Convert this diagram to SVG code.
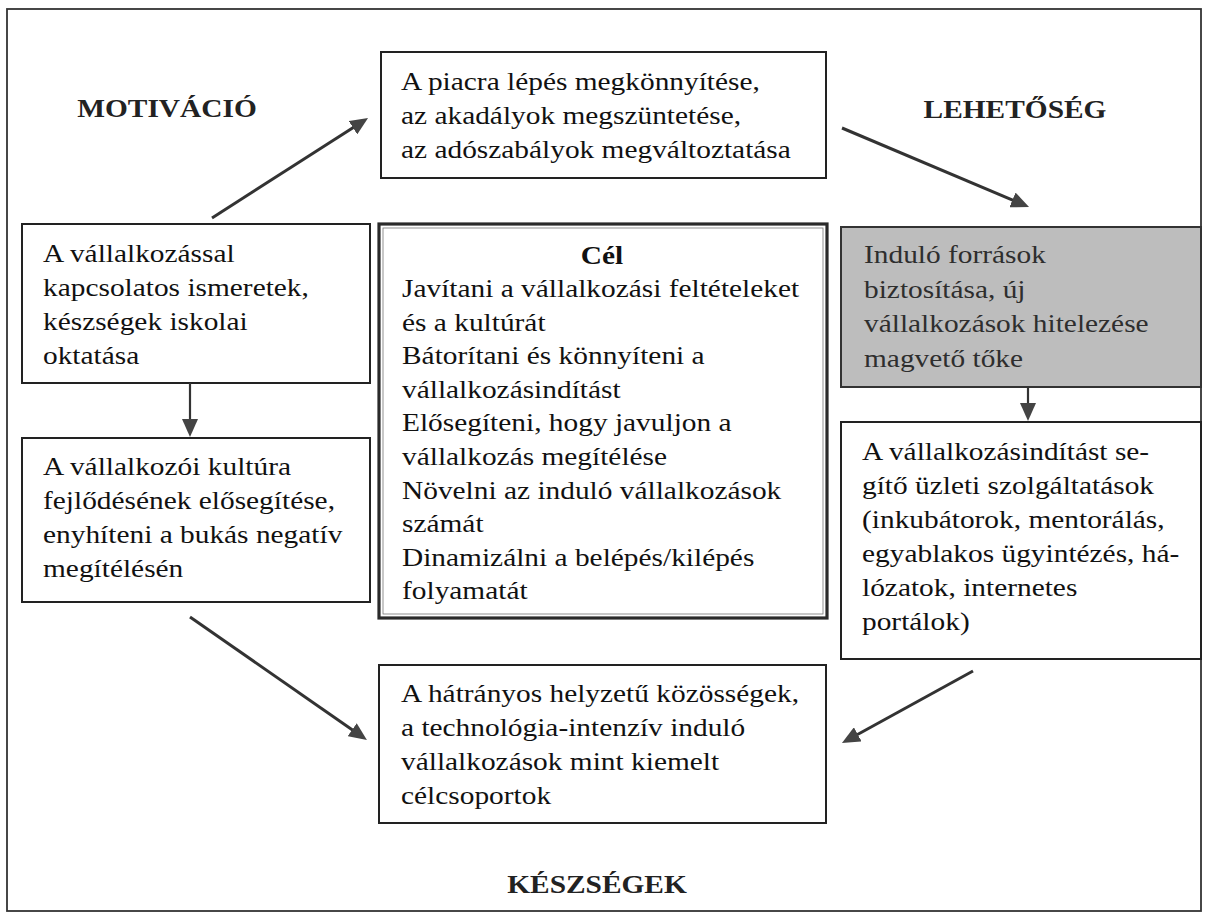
<svg xmlns="http://www.w3.org/2000/svg" width="1206" height="914" viewBox="0 0 1206 914">
<defs>
<style>
.box{fill:#fff;stroke:#222;stroke-width:2}
.t{font-family:"Liberation Serif","Times New Roman",serif;font-size:26px;fill:#111}
.lbl{font-family:"Liberation Serif","Times New Roman",serif;font-size:26px;font-weight:bold;fill:#222;text-anchor:middle}
.gt{font-family:"Liberation Serif","Times New Roman",serif;font-size:26px;fill:#2e2e2e}
.arr{stroke:#333;stroke-width:3;fill:none;marker-end:url(#ah)}
.arrv{stroke:#333;stroke-width:2.2;fill:none;marker-end:url(#ah)}
</style>
<marker id="ah" markerUnits="userSpaceOnUse" markerWidth="18" markerHeight="16" refX="7" refY="8" orient="auto">
<path d="M0,0 L18,8 L0,16 z" fill="#444"/>
</marker>
</defs>
<rect x="0" y="0" width="1206" height="914" fill="#fff"/>
<rect id="frame" x="7" y="9" width="1194" height="902" fill="none" stroke="#333" stroke-width="1.8"/>

<g id="label-motivacio"><text class="lbl" transform="translate(167 0) scale(1.13 1)" x="0" y="117">MOTIVÁCIÓ</text></g>
<g id="label-lehetoseg"><text class="lbl" transform="translate(1015 0) scale(1.13 1)" x="0" y="118">LEHETŐSÉG</text></g>
<g id="label-keszsegek"><text class="lbl" transform="translate(597 0) scale(1.13 1)" x="0" y="893">KÉSZSÉGEK</text></g>

<g id="node-piac">
<rect class="box" x="381" y="52" width="445" height="126"/>
<text class="t" transform="translate(401 0) scale(1.13 1)"><tspan x="0" y="90">A piacra lépés megkönnyítése,</tspan><tspan x="0" y="124">az akadályok megszüntetése,</tspan><tspan x="0" y="158">az adószabályok megváltoztatása</tspan></text>
</g>

<g id="node-ismeretek">
<rect class="box" x="22" y="224" width="348" height="159"/>
<text class="t" transform="translate(43 0) scale(1.13 1)"><tspan x="0" y="262">A vállalkozással</tspan><tspan x="0" y="296">kapcsolatos ismeretek,</tspan><tspan x="0" y="330">készségek iskolai</tspan><tspan x="0" y="364">oktatása</tspan></text>
</g>

<g id="node-cel">
<rect x="379" y="224" width="448" height="394" fill="#fff" stroke="#2a2a2a" stroke-width="3.2"/>
<rect x="383" y="228" width="440" height="386" fill="none" stroke="#777" stroke-width="0.8"/>
<text class="lbl" transform="translate(602 0) scale(1.13 1)" x="0" y="264" style="fill:#111">Cél</text>
<text class="t" transform="translate(402 0) scale(1.13 1)"><tspan x="0" y="297">Javítani a vállalkozási feltételeket</tspan><tspan x="0" y="330.6">és a kultúrát</tspan><tspan x="0" y="364.2">Bátorítani és könnyíteni a</tspan><tspan x="0" y="397.8">vállalkozásindítást</tspan><tspan x="0" y="431.4">Elősegíteni, hogy javuljon a</tspan><tspan x="0" y="465">vállalkozás megítélése</tspan><tspan x="0" y="498.6">Növelni az induló vállalkozások</tspan><tspan x="0" y="532.2">számát</tspan><tspan x="0" y="565.8">Dinamizálni a belépés/kilépés</tspan><tspan x="0" y="599.4">folyamatát</tspan></text>
</g>

<g id="node-forrasok">
<rect x="841" y="227" width="360" height="160" fill="#bdbdbd" stroke="#333" stroke-width="2"/>
<text class="gt" transform="translate(864 0) scale(1.13 1)"><tspan x="0" y="263">Induló források</tspan><tspan x="0" y="298">biztosítása, új</tspan><tspan x="0" y="332">vállalkozások hitelezése</tspan><tspan x="0" y="367">magvető tőke</tspan></text>
</g>

<g id="node-kultura">
<rect class="box" x="22" y="438" width="348" height="164"/>
<text class="t" transform="translate(43 0) scale(1.13 1)"><tspan x="0" y="475">A vállalkozói kultúra</tspan><tspan x="0" y="509">fejlődésének elősegítése,</tspan><tspan x="0" y="543">enyhíteni a bukás negatív</tspan><tspan x="0" y="577">megítélésén</tspan></text>
</g>

<g id="node-szolgaltatasok">
<rect class="box" x="841" y="422" width="360" height="237"/>
<text class="t" transform="translate(862 0) scale(1.13 1)"><tspan x="0" y="460">A vállalkozásindítást se-</tspan><tspan x="0" y="494">gítő üzleti szolgáltatások</tspan><tspan x="0" y="528">(inkubátorok, mentorálás,</tspan><tspan x="0" y="562">egyablakos ügyintézés, há-</tspan><tspan x="0" y="596">lózatok, internetes</tspan><tspan x="0" y="630">portálok)</tspan></text>
</g>

<g id="node-celcsoportok">
<rect class="box" x="379" y="665" width="447" height="158"/>
<text class="t" transform="translate(401 0) scale(1.13 1)"><tspan x="0" y="702">A hátrányos helyzetű közösségek,</tspan><tspan x="0" y="736">a technológia-intenzív induló</tspan><tspan x="0" y="770">vállalkozások mint kiemelt</tspan><tspan x="0" y="804">célcsoportok</tspan></text>
</g>

<g id="connectors">
<line class="arr" x1="212" y1="218" x2="358.8" y2="123.9"/>
<line class="arr" x1="842" y1="128" x2="1018.9" y2="202.7"/>
<line class="arrv" x1="190" y1="383" x2="190" y2="426"/>
<line class="arrv" x1="1028" y1="387" x2="1028" y2="410"/>
<line class="arr" x1="190" y1="617" x2="357.9" y2="733.7"/>
<line class="arr" x1="973" y1="671" x2="851.6" y2="737.7"/>
</g>
</svg>
